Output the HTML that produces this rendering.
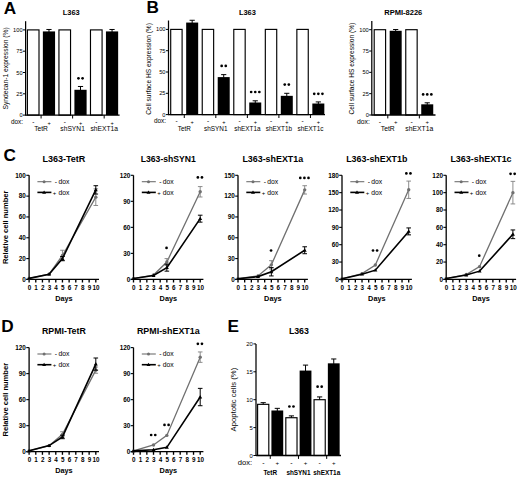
<!DOCTYPE html>
<html><head><meta charset="utf-8"><style>
html,body{margin:0;padding:0;background:#fff;}
svg{display:block;}
text{font-family:"Liberation Sans", sans-serif;}
</style></head><body>
<svg width="520" height="477" viewBox="0 0 520 477">
<rect width="520" height="477" fill="#fff"/>
<line x1="25.60" y1="21.20" x2="25.60" y2="115.70" stroke="#000" stroke-width="1.25"/>
<line x1="23.00" y1="115.10" x2="25.60" y2="115.10" stroke="#000" stroke-width="1.0"/>
<text x="22.60" y="117.15" font-size="5.7" text-anchor="end" fill="#000">0</text>
<line x1="23.00" y1="93.80" x2="25.60" y2="93.80" stroke="#000" stroke-width="1.0"/>
<text x="22.60" y="95.85" font-size="5.7" text-anchor="end" fill="#000">25</text>
<line x1="23.00" y1="72.50" x2="25.60" y2="72.50" stroke="#000" stroke-width="1.0"/>
<text x="22.60" y="74.55" font-size="5.7" text-anchor="end" fill="#000">50</text>
<line x1="23.00" y1="51.20" x2="25.60" y2="51.20" stroke="#000" stroke-width="1.0"/>
<text x="22.60" y="53.25" font-size="5.7" text-anchor="end" fill="#000">75</text>
<line x1="23.00" y1="29.90" x2="25.60" y2="29.90" stroke="#000" stroke-width="1.0"/>
<text x="22.60" y="31.95" font-size="5.7" text-anchor="end" fill="#000">100</text>
<rect x="27.40" y="29.90" width="11.60" height="85.20" fill="#fff" stroke="#000" stroke-width="1.15"/>
<line x1="48.97" y1="29.47" x2="48.97" y2="32.02" stroke="#000" stroke-width="1.0"/>
<line x1="46.37" y1="29.47" x2="51.57" y2="29.47" stroke="#000" stroke-width="1.0"/>
<rect x="42.87" y="31.42" width="12.20" height="83.68" fill="#000"/>
<rect x="58.94" y="29.90" width="11.60" height="85.20" fill="#fff" stroke="#000" stroke-width="1.15"/>
<line x1="80.51" y1="86.47" x2="80.51" y2="90.38" stroke="#000" stroke-width="1.0"/>
<line x1="77.91" y1="86.47" x2="83.11" y2="86.47" stroke="#000" stroke-width="1.0"/>
<rect x="74.41" y="89.78" width="12.20" height="25.32" fill="#000"/>
<circle cx="78.46" cy="78.30" r="1.35" fill="#000"/>
<circle cx="82.56" cy="78.30" r="1.35" fill="#000"/>
<rect x="90.48" y="29.90" width="11.60" height="85.20" fill="#fff" stroke="#000" stroke-width="1.15"/>
<line x1="112.05" y1="29.47" x2="112.05" y2="32.02" stroke="#000" stroke-width="1.0"/>
<line x1="109.45" y1="29.47" x2="114.65" y2="29.47" stroke="#000" stroke-width="1.0"/>
<rect x="105.95" y="31.42" width="12.20" height="83.68" fill="#000"/>
<line x1="25.60" y1="115.10" x2="119.60" y2="115.10" stroke="#000" stroke-width="1.3"/>
<line x1="41.09" y1="115.10" x2="41.09" y2="118.50" stroke="#000" stroke-width="1.0"/>
<text x="41.09" y="130.80" font-size="6.7" text-anchor="middle" fill="#000">TetR</text>
<line x1="72.62" y1="115.10" x2="72.62" y2="118.50" stroke="#000" stroke-width="1.0"/>
<text x="72.62" y="130.80" font-size="6.7" text-anchor="middle" fill="#000">shSYN1</text>
<line x1="104.17" y1="115.10" x2="104.17" y2="118.50" stroke="#000" stroke-width="1.0"/>
<text x="104.17" y="130.80" font-size="6.7" text-anchor="middle" fill="#000">shEXT1a</text>
<text x="33.30" y="123.80" font-size="6.4" text-anchor="middle" fill="#000">-</text>
<text x="49.07" y="124.60" font-size="5.632000000000001" text-anchor="middle" fill="#000">+</text>
<text x="64.84" y="123.80" font-size="6.4" text-anchor="middle" fill="#000">-</text>
<text x="80.61" y="124.60" font-size="5.632000000000001" text-anchor="middle" fill="#000">+</text>
<text x="96.38" y="123.80" font-size="6.4" text-anchor="middle" fill="#000">-</text>
<text x="112.15" y="124.60" font-size="5.632000000000001" text-anchor="middle" fill="#000">+</text>
<text x="11.00" y="123.80" font-size="6.4" text-anchor="start" fill="#000">dox:</text>
<text x="71.20" y="14.60" font-size="7.9" text-anchor="middle" font-weight="bold" fill="#000" textLength="17.0" lengthAdjust="spacingAndGlyphs">L363</text>
<text x="8.40" y="68.40" font-size="6.7" text-anchor="middle" transform="rotate(-90 8.40 68.40)" fill="#000">Syndecan-1 expression (%)</text>
<text x="3.70" y="14.30" font-size="17.2" text-anchor="start" font-weight="bold" fill="#000">A</text>
<line x1="168.50" y1="20.50" x2="168.50" y2="115.20" stroke="#000" stroke-width="1.25"/>
<line x1="165.90" y1="114.60" x2="168.50" y2="114.60" stroke="#000" stroke-width="1.0"/>
<text x="165.50" y="116.65" font-size="5.7" text-anchor="end" fill="#000">0</text>
<line x1="165.90" y1="93.30" x2="168.50" y2="93.30" stroke="#000" stroke-width="1.0"/>
<text x="165.50" y="95.35" font-size="5.7" text-anchor="end" fill="#000">25</text>
<line x1="165.90" y1="72.00" x2="168.50" y2="72.00" stroke="#000" stroke-width="1.0"/>
<text x="165.50" y="74.05" font-size="5.7" text-anchor="end" fill="#000">50</text>
<line x1="165.90" y1="50.70" x2="168.50" y2="50.70" stroke="#000" stroke-width="1.0"/>
<text x="165.50" y="52.75" font-size="5.7" text-anchor="end" fill="#000">75</text>
<line x1="165.90" y1="29.40" x2="168.50" y2="29.40" stroke="#000" stroke-width="1.0"/>
<text x="165.50" y="31.45" font-size="5.7" text-anchor="end" fill="#000">100</text>
<rect x="170.70" y="29.40" width="11.40" height="85.20" fill="#fff" stroke="#000" stroke-width="1.15"/>
<line x1="192.17" y1="20.28" x2="192.17" y2="23.17" stroke="#000" stroke-width="1.0"/>
<line x1="189.57" y1="20.28" x2="194.77" y2="20.28" stroke="#000" stroke-width="1.0"/>
<rect x="186.17" y="22.57" width="12.00" height="92.03" fill="#000"/>
<rect x="202.24" y="29.40" width="11.40" height="85.20" fill="#fff" stroke="#000" stroke-width="1.15"/>
<line x1="223.71" y1="74.64" x2="223.71" y2="77.70" stroke="#000" stroke-width="1.0"/>
<line x1="221.11" y1="74.64" x2="226.31" y2="74.64" stroke="#000" stroke-width="1.0"/>
<rect x="217.71" y="77.10" width="12.00" height="37.50" fill="#000"/>
<circle cx="221.66" cy="65.90" r="1.35" fill="#000"/>
<circle cx="225.76" cy="65.90" r="1.35" fill="#000"/>
<rect x="233.78" y="29.40" width="11.40" height="85.20" fill="#fff" stroke="#000" stroke-width="1.15"/>
<line x1="255.25" y1="100.80" x2="255.25" y2="103.09" stroke="#000" stroke-width="1.0"/>
<line x1="252.65" y1="100.80" x2="257.85" y2="100.80" stroke="#000" stroke-width="1.0"/>
<rect x="249.25" y="102.49" width="12.00" height="12.11" fill="#000"/>
<circle cx="251.15" cy="92.00" r="1.35" fill="#000"/>
<circle cx="255.25" cy="92.00" r="1.35" fill="#000"/>
<circle cx="259.35" cy="92.00" r="1.35" fill="#000"/>
<rect x="265.32" y="29.40" width="11.40" height="85.20" fill="#fff" stroke="#000" stroke-width="1.15"/>
<line x1="286.79" y1="93.30" x2="286.79" y2="96.44" stroke="#000" stroke-width="1.0"/>
<line x1="284.19" y1="93.30" x2="289.39" y2="93.30" stroke="#000" stroke-width="1.0"/>
<rect x="280.79" y="95.84" width="12.00" height="18.76" fill="#000"/>
<circle cx="284.74" cy="84.60" r="1.35" fill="#000"/>
<circle cx="288.84" cy="84.60" r="1.35" fill="#000"/>
<rect x="296.86" y="29.40" width="11.40" height="85.20" fill="#fff" stroke="#000" stroke-width="1.15"/>
<line x1="318.33" y1="101.91" x2="318.33" y2="104.11" stroke="#000" stroke-width="1.0"/>
<line x1="315.73" y1="101.91" x2="320.93" y2="101.91" stroke="#000" stroke-width="1.0"/>
<rect x="312.33" y="103.51" width="12.00" height="11.09" fill="#000"/>
<circle cx="314.23" cy="93.80" r="1.35" fill="#000"/>
<circle cx="318.33" cy="93.80" r="1.35" fill="#000"/>
<circle cx="322.43" cy="93.80" r="1.35" fill="#000"/>
<line x1="168.50" y1="114.60" x2="325.00" y2="114.60" stroke="#000" stroke-width="1.3"/>
<line x1="184.28" y1="114.60" x2="184.28" y2="118.00" stroke="#000" stroke-width="1.0"/>
<text x="184.28" y="131.00" font-size="6.4" text-anchor="middle" fill="#000">TetR</text>
<line x1="215.82" y1="114.60" x2="215.82" y2="118.00" stroke="#000" stroke-width="1.0"/>
<text x="215.82" y="131.00" font-size="6.4" text-anchor="middle" fill="#000">shSYN1</text>
<line x1="247.37" y1="114.60" x2="247.37" y2="118.00" stroke="#000" stroke-width="1.0"/>
<text x="247.37" y="131.00" font-size="6.4" text-anchor="middle" fill="#000">shEXT1a</text>
<line x1="278.90" y1="114.60" x2="278.90" y2="118.00" stroke="#000" stroke-width="1.0"/>
<text x="278.90" y="131.00" font-size="6.4" text-anchor="middle" fill="#000">shEXT1b</text>
<line x1="310.44" y1="114.60" x2="310.44" y2="118.00" stroke="#000" stroke-width="1.0"/>
<text x="310.44" y="131.00" font-size="6.4" text-anchor="middle" fill="#000">shEXT1c</text>
<text x="176.50" y="123.30" font-size="6.4" text-anchor="middle" fill="#000">-</text>
<text x="192.27" y="124.10" font-size="5.632000000000001" text-anchor="middle" fill="#000">+</text>
<text x="208.04" y="123.30" font-size="6.4" text-anchor="middle" fill="#000">-</text>
<text x="223.81" y="124.10" font-size="5.632000000000001" text-anchor="middle" fill="#000">+</text>
<text x="239.58" y="123.30" font-size="6.4" text-anchor="middle" fill="#000">-</text>
<text x="255.35" y="124.10" font-size="5.632000000000001" text-anchor="middle" fill="#000">+</text>
<text x="271.12" y="123.30" font-size="6.4" text-anchor="middle" fill="#000">-</text>
<text x="286.89" y="124.10" font-size="5.632000000000001" text-anchor="middle" fill="#000">+</text>
<text x="302.66" y="123.30" font-size="6.4" text-anchor="middle" fill="#000">-</text>
<text x="318.43" y="124.10" font-size="5.632000000000001" text-anchor="middle" fill="#000">+</text>
<text x="154.00" y="123.30" font-size="6.4" text-anchor="start" fill="#000">dox:</text>
<text x="247.40" y="14.50" font-size="7.9" text-anchor="middle" font-weight="bold" fill="#000" textLength="17.0" lengthAdjust="spacingAndGlyphs">L363</text>
<text x="150.70" y="68.90" font-size="6.6" text-anchor="middle" transform="rotate(-90 150.70 68.90)" fill="#000">Cell surface HS expression (%)</text>
<text x="146.40" y="12.90" font-size="17.2" text-anchor="start" font-weight="bold" fill="#000">B</text>
<line x1="371.80" y1="21.10" x2="371.80" y2="115.60" stroke="#000" stroke-width="1.25"/>
<line x1="369.20" y1="115.00" x2="371.80" y2="115.00" stroke="#000" stroke-width="1.0"/>
<text x="368.80" y="117.05" font-size="5.7" text-anchor="end" fill="#000">0</text>
<line x1="369.20" y1="93.67" x2="371.80" y2="93.67" stroke="#000" stroke-width="1.0"/>
<text x="368.80" y="95.73" font-size="5.7" text-anchor="end" fill="#000">25</text>
<line x1="369.20" y1="72.35" x2="371.80" y2="72.35" stroke="#000" stroke-width="1.0"/>
<text x="368.80" y="74.40" font-size="5.7" text-anchor="end" fill="#000">50</text>
<line x1="369.20" y1="51.02" x2="371.80" y2="51.02" stroke="#000" stroke-width="1.0"/>
<text x="368.80" y="53.08" font-size="5.7" text-anchor="end" fill="#000">75</text>
<line x1="369.20" y1="29.70" x2="371.80" y2="29.70" stroke="#000" stroke-width="1.0"/>
<text x="368.80" y="31.75" font-size="5.7" text-anchor="end" fill="#000">100</text>
<rect x="374.20" y="29.70" width="11.40" height="85.30" fill="#fff" stroke="#000" stroke-width="1.15"/>
<line x1="395.68" y1="29.53" x2="395.68" y2="31.39" stroke="#000" stroke-width="1.0"/>
<line x1="393.08" y1="29.53" x2="398.28" y2="29.53" stroke="#000" stroke-width="1.0"/>
<rect x="389.68" y="30.79" width="12.00" height="84.21" fill="#000"/>
<rect x="405.76" y="29.70" width="11.40" height="85.30" fill="#fff" stroke="#000" stroke-width="1.15"/>
<line x1="427.24" y1="102.80" x2="427.24" y2="104.92" stroke="#000" stroke-width="1.0"/>
<line x1="424.64" y1="102.80" x2="429.84" y2="102.80" stroke="#000" stroke-width="1.0"/>
<rect x="421.24" y="104.32" width="12.00" height="10.68" fill="#000"/>
<circle cx="423.14" cy="94.40" r="1.35" fill="#000"/>
<circle cx="427.24" cy="94.40" r="1.35" fill="#000"/>
<circle cx="431.34" cy="94.40" r="1.35" fill="#000"/>
<line x1="371.80" y1="115.00" x2="435.50" y2="115.00" stroke="#000" stroke-width="1.3"/>
<line x1="387.79" y1="115.00" x2="387.79" y2="118.40" stroke="#000" stroke-width="1.0"/>
<text x="387.79" y="131.20" font-size="6.8" text-anchor="middle" fill="#000">TetR</text>
<line x1="419.35" y1="115.00" x2="419.35" y2="118.40" stroke="#000" stroke-width="1.0"/>
<text x="419.35" y="131.20" font-size="6.8" text-anchor="middle" fill="#000">shEXT1a</text>
<text x="380.00" y="123.60" font-size="6.8" text-anchor="middle" fill="#000">-</text>
<text x="395.78" y="124.40" font-size="5.984" text-anchor="middle" fill="#000">+</text>
<text x="411.56" y="123.60" font-size="6.8" text-anchor="middle" fill="#000">-</text>
<text x="427.34" y="124.40" font-size="5.984" text-anchor="middle" fill="#000">+</text>
<text x="357.00" y="123.60" font-size="6.8" text-anchor="start" fill="#000">dox:</text>
<text x="403.30" y="14.50" font-size="7.9" text-anchor="middle" font-weight="bold" fill="#000" textLength="38.0" lengthAdjust="spacingAndGlyphs">RPMI-8226</text>
<text x="354.00" y="68.60" font-size="6.6" text-anchor="middle" transform="rotate(-90 354.00 68.60)" fill="#000">Cell surface HS expression (%)</text>
<line x1="256.00" y1="343.90" x2="256.00" y2="456.10" stroke="#000" stroke-width="1.25"/>
<line x1="253.40" y1="455.50" x2="256.00" y2="455.50" stroke="#000" stroke-width="1.0"/>
<text x="252.80" y="457.62" font-size="5.9" text-anchor="end" fill="#000">0</text>
<line x1="253.40" y1="427.60" x2="256.00" y2="427.60" stroke="#000" stroke-width="1.0"/>
<text x="252.80" y="429.72" font-size="5.9" text-anchor="end" fill="#000">5</text>
<line x1="253.40" y1="399.70" x2="256.00" y2="399.70" stroke="#000" stroke-width="1.0"/>
<text x="252.80" y="401.82" font-size="5.9" text-anchor="end" fill="#000">10</text>
<line x1="253.40" y1="371.80" x2="256.00" y2="371.80" stroke="#000" stroke-width="1.0"/>
<text x="252.80" y="373.92" font-size="5.9" text-anchor="end" fill="#000">15</text>
<line x1="253.40" y1="343.90" x2="256.00" y2="343.90" stroke="#000" stroke-width="1.0"/>
<text x="252.80" y="346.02" font-size="5.9" text-anchor="end" fill="#000">20</text>
<line x1="263.20" y1="402.66" x2="263.20" y2="404.83" stroke="#000" stroke-width="1.0"/>
<line x1="260.60" y1="402.66" x2="265.80" y2="402.66" stroke="#000" stroke-width="1.0"/>
<rect x="257.60" y="404.33" width="11.20" height="51.17" fill="#fff" stroke="#000" stroke-width="1.15"/>
<line x1="277.31" y1="408.35" x2="277.31" y2="411.08" stroke="#000" stroke-width="1.0"/>
<line x1="274.71" y1="408.35" x2="279.91" y2="408.35" stroke="#000" stroke-width="1.0"/>
<rect x="271.41" y="410.48" width="11.80" height="45.02" fill="#000"/>
<line x1="291.42" y1="415.88" x2="291.42" y2="418.22" stroke="#000" stroke-width="1.0"/>
<line x1="288.82" y1="415.88" x2="294.02" y2="415.88" stroke="#000" stroke-width="1.0"/>
<rect x="285.82" y="417.72" width="11.20" height="37.78" fill="#fff" stroke="#000" stroke-width="1.15"/>
<circle cx="289.37" cy="406.50" r="1.35" fill="#000"/>
<circle cx="293.47" cy="406.50" r="1.35" fill="#000"/>
<line x1="305.53" y1="365.10" x2="305.53" y2="371.18" stroke="#000" stroke-width="1.0"/>
<line x1="302.93" y1="365.10" x2="308.13" y2="365.10" stroke="#000" stroke-width="1.0"/>
<rect x="299.63" y="370.58" width="11.80" height="84.92" fill="#000"/>
<line x1="319.64" y1="396.91" x2="319.64" y2="400.20" stroke="#000" stroke-width="1.0"/>
<line x1="317.04" y1="396.91" x2="322.24" y2="396.91" stroke="#000" stroke-width="1.0"/>
<rect x="314.04" y="399.70" width="11.20" height="55.80" fill="#fff" stroke="#000" stroke-width="1.15"/>
<circle cx="317.59" cy="386.70" r="1.35" fill="#000"/>
<circle cx="321.69" cy="386.70" r="1.35" fill="#000"/>
<line x1="333.75" y1="358.97" x2="333.75" y2="363.93" stroke="#000" stroke-width="1.0"/>
<line x1="331.15" y1="358.97" x2="336.35" y2="358.97" stroke="#000" stroke-width="1.0"/>
<rect x="327.85" y="363.33" width="11.80" height="92.17" fill="#000"/>
<line x1="256.00" y1="455.50" x2="341.00" y2="455.50" stroke="#000" stroke-width="1.3"/>
<line x1="270.25" y1="455.50" x2="270.25" y2="458.90" stroke="#000" stroke-width="1.0"/>
<text x="270.25" y="474.60" font-size="6.4" text-anchor="middle" font-weight="bold" fill="#000">TetR</text>
<line x1="298.47" y1="455.50" x2="298.47" y2="458.90" stroke="#000" stroke-width="1.0"/>
<text x="298.47" y="474.60" font-size="6.4" text-anchor="middle" font-weight="bold" fill="#000">shSYN1</text>
<line x1="326.69" y1="455.50" x2="326.69" y2="458.90" stroke="#000" stroke-width="1.0"/>
<text x="326.69" y="474.60" font-size="6.4" text-anchor="middle" font-weight="bold" fill="#000">shEXT1a</text>
<text x="263.30" y="465.20" font-size="7.0" text-anchor="middle" fill="#000">-</text>
<text x="277.41" y="464.90" font-size="6.16" text-anchor="middle" fill="#000">+</text>
<text x="291.52" y="465.20" font-size="7.0" text-anchor="middle" fill="#000">-</text>
<text x="305.63" y="464.90" font-size="6.16" text-anchor="middle" fill="#000">+</text>
<text x="319.74" y="465.20" font-size="7.0" text-anchor="middle" fill="#000">-</text>
<text x="333.85" y="464.90" font-size="6.16" text-anchor="middle" fill="#000">+</text>
<text x="237.70" y="465.20" font-size="7.6" text-anchor="start" fill="#000">dox:</text>
<text x="298.90" y="334.00" font-size="8.8" text-anchor="middle" font-weight="bold" fill="#000" textLength="20.0" lengthAdjust="spacingAndGlyphs">L363</text>
<text x="235.70" y="399.60" font-size="7.7" text-anchor="middle" transform="rotate(-90 235.70 399.60)" fill="#000">Apoptotic cells (%)</text>
<text x="227.60" y="331.60" font-size="17.2" text-anchor="start" font-weight="bold" fill="#000">E</text>
<line x1="29.10" y1="175.30" x2="29.10" y2="280.00" stroke="#000" stroke-width="1.3"/>
<line x1="26.30" y1="279.40" x2="29.10" y2="279.40" stroke="#000" stroke-width="1.1"/>
<text x="25.90" y="281.60" font-size="6.4" text-anchor="end" font-weight="bold" fill="#000">0</text>
<line x1="26.30" y1="258.58" x2="29.10" y2="258.58" stroke="#000" stroke-width="1.1"/>
<text x="25.90" y="260.78" font-size="6.4" text-anchor="end" font-weight="bold" fill="#000">20</text>
<line x1="26.30" y1="237.76" x2="29.10" y2="237.76" stroke="#000" stroke-width="1.1"/>
<text x="25.90" y="239.96" font-size="6.4" text-anchor="end" font-weight="bold" fill="#000">40</text>
<line x1="26.30" y1="216.94" x2="29.10" y2="216.94" stroke="#000" stroke-width="1.1"/>
<text x="25.90" y="219.14" font-size="6.4" text-anchor="end" font-weight="bold" fill="#000">60</text>
<line x1="26.30" y1="196.12" x2="29.10" y2="196.12" stroke="#000" stroke-width="1.1"/>
<text x="25.90" y="198.32" font-size="6.4" text-anchor="end" font-weight="bold" fill="#000">80</text>
<line x1="26.30" y1="175.30" x2="29.10" y2="175.30" stroke="#000" stroke-width="1.1"/>
<text x="25.90" y="177.50" font-size="6.4" text-anchor="end" font-weight="bold" fill="#000">100</text>
<line x1="26.30" y1="279.40" x2="99.00" y2="279.40" stroke="#000" stroke-width="1.3"/>
<line x1="29.10" y1="279.40" x2="29.10" y2="282.50" stroke="#000" stroke-width="1.35"/>
<text x="29.40" y="290.10" font-size="6.3" text-anchor="middle" font-weight="bold" fill="#000">0</text>
<line x1="35.77" y1="279.40" x2="35.77" y2="282.50" stroke="#000" stroke-width="1.35"/>
<text x="36.07" y="290.10" font-size="6.3" text-anchor="middle" font-weight="bold" fill="#000">1</text>
<line x1="42.44" y1="279.40" x2="42.44" y2="282.50" stroke="#000" stroke-width="1.35"/>
<text x="42.74" y="290.10" font-size="6.3" text-anchor="middle" font-weight="bold" fill="#000">2</text>
<line x1="49.11" y1="279.40" x2="49.11" y2="282.50" stroke="#000" stroke-width="1.35"/>
<text x="49.41" y="290.10" font-size="6.3" text-anchor="middle" font-weight="bold" fill="#000">3</text>
<line x1="55.78" y1="279.40" x2="55.78" y2="282.50" stroke="#000" stroke-width="1.35"/>
<text x="56.08" y="290.10" font-size="6.3" text-anchor="middle" font-weight="bold" fill="#000">4</text>
<line x1="62.45" y1="279.40" x2="62.45" y2="282.50" stroke="#000" stroke-width="1.35"/>
<text x="62.75" y="290.10" font-size="6.3" text-anchor="middle" font-weight="bold" fill="#000">5</text>
<line x1="69.12" y1="279.40" x2="69.12" y2="282.50" stroke="#000" stroke-width="1.35"/>
<text x="69.42" y="290.10" font-size="6.3" text-anchor="middle" font-weight="bold" fill="#000">6</text>
<line x1="75.79" y1="279.40" x2="75.79" y2="282.50" stroke="#000" stroke-width="1.35"/>
<text x="76.09" y="290.10" font-size="6.3" text-anchor="middle" font-weight="bold" fill="#000">7</text>
<line x1="82.46" y1="279.40" x2="82.46" y2="282.50" stroke="#000" stroke-width="1.35"/>
<text x="82.76" y="290.10" font-size="6.3" text-anchor="middle" font-weight="bold" fill="#000">8</text>
<line x1="89.13" y1="279.40" x2="89.13" y2="282.50" stroke="#000" stroke-width="1.35"/>
<text x="89.43" y="290.10" font-size="6.3" text-anchor="middle" font-weight="bold" fill="#000">9</text>
<line x1="95.80" y1="279.40" x2="95.80" y2="282.50" stroke="#000" stroke-width="1.35"/>
<text x="96.10" y="290.10" font-size="6.3" text-anchor="middle" font-weight="bold" fill="#000">10</text>
<text x="63.95" y="301.10" font-size="7.3" text-anchor="middle" font-weight="bold" fill="#000">Days</text>
<line x1="37.40" y1="181.70" x2="51.40" y2="181.70" stroke="#707070" stroke-width="1.1"/>
<circle cx="44.10" cy="181.70" r="1.5" fill="#707070"/>
<text x="55.90" y="184.00" font-size="6.8" text-anchor="middle" fill="#000">-</text>
<text x="58.40" y="184.10" font-size="6.8" text-anchor="start" fill="#000">dox</text>
<line x1="37.40" y1="192.40" x2="51.40" y2="192.40" stroke="#000" stroke-width="1.6"/>
<path d="M42.10,193.80 L46.10,193.80 L44.10,190.40 Z" fill="#000"/>
<text x="54.50" y="195.10" font-size="6.0" text-anchor="middle" fill="#000">+</text>
<text x="58.40" y="194.80" font-size="6.8" text-anchor="start" fill="#000">dox</text>
<polyline points="29.10,278.36 49.11,274.19 62.45,255.46 95.80,197.16" fill="none" stroke="#707070" stroke-width="1.3"/>
<circle cx="29.10" cy="278.36" r="1.7" fill="#707070"/>
<circle cx="49.11" cy="274.19" r="1.7" fill="#707070"/>
<line x1="62.45" y1="250.25" x2="62.45" y2="260.66" stroke="#808080" stroke-width="0.9"/>
<line x1="60.15" y1="250.25" x2="64.75" y2="250.25" stroke="#808080" stroke-width="0.9"/>
<line x1="60.15" y1="260.66" x2="64.75" y2="260.66" stroke="#808080" stroke-width="0.9"/>
<circle cx="62.45" cy="255.46" r="1.7" fill="#707070"/>
<line x1="95.80" y1="188.83" x2="95.80" y2="205.49" stroke="#808080" stroke-width="0.9"/>
<line x1="93.50" y1="188.83" x2="98.10" y2="188.83" stroke="#808080" stroke-width="0.9"/>
<line x1="93.50" y1="205.49" x2="98.10" y2="205.49" stroke="#808080" stroke-width="0.9"/>
<circle cx="95.80" cy="197.16" r="1.7" fill="#707070"/>
<polyline points="29.10,278.36 49.11,274.19 62.45,258.58 95.80,189.87" fill="none" stroke="#000" stroke-width="1.6"/>
<path d="M27.10,279.76 L31.10,279.76 L29.10,276.36 Z" fill="#000"/>
<path d="M47.11,275.59 L51.11,275.59 L49.11,272.19 Z" fill="#000"/>
<line x1="62.45" y1="256.50" x2="62.45" y2="260.66" stroke="#000" stroke-width="1.0"/>
<line x1="60.15" y1="256.50" x2="64.75" y2="256.50" stroke="#000" stroke-width="1.0"/>
<line x1="60.15" y1="260.66" x2="64.75" y2="260.66" stroke="#000" stroke-width="1.0"/>
<path d="M60.45,259.98 L64.45,259.98 L62.45,256.58 Z" fill="#000"/>
<line x1="95.80" y1="185.71" x2="95.80" y2="194.04" stroke="#000" stroke-width="1.0"/>
<line x1="93.50" y1="185.71" x2="98.10" y2="185.71" stroke="#000" stroke-width="1.0"/>
<line x1="93.50" y1="194.04" x2="98.10" y2="194.04" stroke="#000" stroke-width="1.0"/>
<path d="M93.80,191.27 L97.80,191.27 L95.80,187.87 Z" fill="#000"/>
<text x="63.90" y="161.50" font-size="8.8" text-anchor="middle" font-weight="bold" fill="#000" textLength="43.0" lengthAdjust="spacingAndGlyphs">L363-TetR</text>
<text x="8.50" y="227.35" font-size="7.6" text-anchor="middle" font-weight="bold" transform="rotate(-90 8.50 227.35)" fill="#000" textLength="73.5" lengthAdjust="spacingAndGlyphs">Relative cell number</text>
<line x1="133.50" y1="175.30" x2="133.50" y2="280.00" stroke="#000" stroke-width="1.3"/>
<line x1="130.70" y1="279.40" x2="133.50" y2="279.40" stroke="#000" stroke-width="1.1"/>
<text x="130.30" y="281.60" font-size="6.4" text-anchor="end" font-weight="bold" fill="#000">0</text>
<line x1="130.70" y1="253.38" x2="133.50" y2="253.38" stroke="#000" stroke-width="1.1"/>
<text x="130.30" y="255.58" font-size="6.4" text-anchor="end" font-weight="bold" fill="#000">30</text>
<line x1="130.70" y1="227.35" x2="133.50" y2="227.35" stroke="#000" stroke-width="1.1"/>
<text x="130.30" y="229.55" font-size="6.4" text-anchor="end" font-weight="bold" fill="#000">60</text>
<line x1="130.70" y1="201.32" x2="133.50" y2="201.32" stroke="#000" stroke-width="1.1"/>
<text x="130.30" y="203.53" font-size="6.4" text-anchor="end" font-weight="bold" fill="#000">90</text>
<line x1="130.70" y1="175.30" x2="133.50" y2="175.30" stroke="#000" stroke-width="1.1"/>
<text x="130.30" y="177.50" font-size="6.4" text-anchor="end" font-weight="bold" fill="#000">120</text>
<line x1="130.70" y1="279.40" x2="203.40" y2="279.40" stroke="#000" stroke-width="1.3"/>
<line x1="133.50" y1="279.40" x2="133.50" y2="282.50" stroke="#000" stroke-width="1.35"/>
<text x="133.80" y="290.10" font-size="6.3" text-anchor="middle" font-weight="bold" fill="#000">0</text>
<line x1="140.17" y1="279.40" x2="140.17" y2="282.50" stroke="#000" stroke-width="1.35"/>
<text x="140.47" y="290.10" font-size="6.3" text-anchor="middle" font-weight="bold" fill="#000">1</text>
<line x1="146.84" y1="279.40" x2="146.84" y2="282.50" stroke="#000" stroke-width="1.35"/>
<text x="147.14" y="290.10" font-size="6.3" text-anchor="middle" font-weight="bold" fill="#000">2</text>
<line x1="153.51" y1="279.40" x2="153.51" y2="282.50" stroke="#000" stroke-width="1.35"/>
<text x="153.81" y="290.10" font-size="6.3" text-anchor="middle" font-weight="bold" fill="#000">3</text>
<line x1="160.18" y1="279.40" x2="160.18" y2="282.50" stroke="#000" stroke-width="1.35"/>
<text x="160.48" y="290.10" font-size="6.3" text-anchor="middle" font-weight="bold" fill="#000">4</text>
<line x1="166.85" y1="279.40" x2="166.85" y2="282.50" stroke="#000" stroke-width="1.35"/>
<text x="167.15" y="290.10" font-size="6.3" text-anchor="middle" font-weight="bold" fill="#000">5</text>
<line x1="173.52" y1="279.40" x2="173.52" y2="282.50" stroke="#000" stroke-width="1.35"/>
<text x="173.82" y="290.10" font-size="6.3" text-anchor="middle" font-weight="bold" fill="#000">6</text>
<line x1="180.19" y1="279.40" x2="180.19" y2="282.50" stroke="#000" stroke-width="1.35"/>
<text x="180.49" y="290.10" font-size="6.3" text-anchor="middle" font-weight="bold" fill="#000">7</text>
<line x1="186.86" y1="279.40" x2="186.86" y2="282.50" stroke="#000" stroke-width="1.35"/>
<text x="187.16" y="290.10" font-size="6.3" text-anchor="middle" font-weight="bold" fill="#000">8</text>
<line x1="193.53" y1="279.40" x2="193.53" y2="282.50" stroke="#000" stroke-width="1.35"/>
<text x="193.83" y="290.10" font-size="6.3" text-anchor="middle" font-weight="bold" fill="#000">9</text>
<line x1="200.20" y1="279.40" x2="200.20" y2="282.50" stroke="#000" stroke-width="1.35"/>
<text x="200.50" y="290.10" font-size="6.3" text-anchor="middle" font-weight="bold" fill="#000">10</text>
<text x="168.35" y="301.10" font-size="7.3" text-anchor="middle" font-weight="bold" fill="#000">Days</text>
<line x1="141.80" y1="181.70" x2="155.80" y2="181.70" stroke="#707070" stroke-width="1.1"/>
<circle cx="148.50" cy="181.70" r="1.5" fill="#707070"/>
<text x="160.30" y="184.00" font-size="6.8" text-anchor="middle" fill="#000">-</text>
<text x="162.80" y="184.10" font-size="6.8" text-anchor="start" fill="#000">dox</text>
<line x1="141.80" y1="192.40" x2="155.80" y2="192.40" stroke="#000" stroke-width="1.6"/>
<path d="M146.50,193.80 L150.50,193.80 L148.50,190.40 Z" fill="#000"/>
<text x="158.90" y="195.10" font-size="6.0" text-anchor="middle" fill="#000">+</text>
<text x="162.80" y="194.80" font-size="6.8" text-anchor="start" fill="#000">dox</text>
<polyline points="133.50,278.53 153.51,275.06 166.85,262.05 200.20,191.78" fill="none" stroke="#707070" stroke-width="1.3"/>
<circle cx="133.50" cy="278.53" r="1.7" fill="#707070"/>
<circle cx="153.51" cy="275.06" r="1.7" fill="#707070"/>
<line x1="166.85" y1="258.58" x2="166.85" y2="265.52" stroke="#808080" stroke-width="0.9"/>
<line x1="164.55" y1="258.58" x2="169.15" y2="258.58" stroke="#808080" stroke-width="0.9"/>
<line x1="164.55" y1="265.52" x2="169.15" y2="265.52" stroke="#808080" stroke-width="0.9"/>
<circle cx="166.85" cy="262.05" r="1.7" fill="#707070"/>
<line x1="200.20" y1="186.58" x2="200.20" y2="196.99" stroke="#808080" stroke-width="0.9"/>
<line x1="197.90" y1="186.58" x2="202.50" y2="186.58" stroke="#808080" stroke-width="0.9"/>
<line x1="197.90" y1="196.99" x2="202.50" y2="196.99" stroke="#808080" stroke-width="0.9"/>
<circle cx="200.20" cy="191.78" r="1.7" fill="#707070"/>
<polyline points="133.50,278.53 153.51,275.50 166.85,267.69 200.20,218.67" fill="none" stroke="#000" stroke-width="1.6"/>
<path d="M131.50,279.93 L135.50,279.93 L133.50,276.53 Z" fill="#000"/>
<path d="M151.51,276.90 L155.51,276.90 L153.51,273.50 Z" fill="#000"/>
<line x1="166.85" y1="264.22" x2="166.85" y2="271.16" stroke="#000" stroke-width="1.0"/>
<line x1="164.55" y1="264.22" x2="169.15" y2="264.22" stroke="#000" stroke-width="1.0"/>
<line x1="164.55" y1="271.16" x2="169.15" y2="271.16" stroke="#000" stroke-width="1.0"/>
<path d="M164.85,269.09 L168.85,269.09 L166.85,265.69 Z" fill="#000"/>
<line x1="200.20" y1="215.20" x2="200.20" y2="222.14" stroke="#000" stroke-width="1.0"/>
<line x1="197.90" y1="215.20" x2="202.50" y2="215.20" stroke="#000" stroke-width="1.0"/>
<line x1="197.90" y1="222.14" x2="202.50" y2="222.14" stroke="#000" stroke-width="1.0"/>
<path d="M198.20,220.07 L202.20,220.07 L200.20,216.67 Z" fill="#000"/>
<circle cx="166.55" cy="247.90" r="1.35" fill="#000"/>
<circle cx="197.85" cy="177.40" r="1.35" fill="#000"/>
<circle cx="201.95" cy="177.40" r="1.35" fill="#000"/>
<text x="168.30" y="161.50" font-size="8.8" text-anchor="middle" font-weight="bold" fill="#000" textLength="55.0" lengthAdjust="spacingAndGlyphs">L363-shSYN1</text>
<line x1="238.00" y1="175.30" x2="238.00" y2="280.00" stroke="#000" stroke-width="1.3"/>
<line x1="235.20" y1="279.40" x2="238.00" y2="279.40" stroke="#000" stroke-width="1.1"/>
<text x="234.80" y="281.60" font-size="6.4" text-anchor="end" font-weight="bold" fill="#000">0</text>
<line x1="235.20" y1="258.58" x2="238.00" y2="258.58" stroke="#000" stroke-width="1.1"/>
<text x="234.80" y="260.78" font-size="6.4" text-anchor="end" font-weight="bold" fill="#000">30</text>
<line x1="235.20" y1="237.76" x2="238.00" y2="237.76" stroke="#000" stroke-width="1.1"/>
<text x="234.80" y="239.96" font-size="6.4" text-anchor="end" font-weight="bold" fill="#000">60</text>
<line x1="235.20" y1="216.94" x2="238.00" y2="216.94" stroke="#000" stroke-width="1.1"/>
<text x="234.80" y="219.14" font-size="6.4" text-anchor="end" font-weight="bold" fill="#000">90</text>
<line x1="235.20" y1="196.12" x2="238.00" y2="196.12" stroke="#000" stroke-width="1.1"/>
<text x="234.80" y="198.32" font-size="6.4" text-anchor="end" font-weight="bold" fill="#000">120</text>
<line x1="235.20" y1="175.30" x2="238.00" y2="175.30" stroke="#000" stroke-width="1.1"/>
<text x="234.80" y="177.50" font-size="6.4" text-anchor="end" font-weight="bold" fill="#000">150</text>
<line x1="235.20" y1="279.40" x2="307.90" y2="279.40" stroke="#000" stroke-width="1.3"/>
<line x1="238.00" y1="279.40" x2="238.00" y2="282.50" stroke="#000" stroke-width="1.35"/>
<text x="238.30" y="290.10" font-size="6.3" text-anchor="middle" font-weight="bold" fill="#000">0</text>
<line x1="244.67" y1="279.40" x2="244.67" y2="282.50" stroke="#000" stroke-width="1.35"/>
<text x="244.97" y="290.10" font-size="6.3" text-anchor="middle" font-weight="bold" fill="#000">1</text>
<line x1="251.34" y1="279.40" x2="251.34" y2="282.50" stroke="#000" stroke-width="1.35"/>
<text x="251.64" y="290.10" font-size="6.3" text-anchor="middle" font-weight="bold" fill="#000">2</text>
<line x1="258.01" y1="279.40" x2="258.01" y2="282.50" stroke="#000" stroke-width="1.35"/>
<text x="258.31" y="290.10" font-size="6.3" text-anchor="middle" font-weight="bold" fill="#000">3</text>
<line x1="264.68" y1="279.40" x2="264.68" y2="282.50" stroke="#000" stroke-width="1.35"/>
<text x="264.98" y="290.10" font-size="6.3" text-anchor="middle" font-weight="bold" fill="#000">4</text>
<line x1="271.35" y1="279.40" x2="271.35" y2="282.50" stroke="#000" stroke-width="1.35"/>
<text x="271.65" y="290.10" font-size="6.3" text-anchor="middle" font-weight="bold" fill="#000">5</text>
<line x1="278.02" y1="279.40" x2="278.02" y2="282.50" stroke="#000" stroke-width="1.35"/>
<text x="278.32" y="290.10" font-size="6.3" text-anchor="middle" font-weight="bold" fill="#000">6</text>
<line x1="284.69" y1="279.40" x2="284.69" y2="282.50" stroke="#000" stroke-width="1.35"/>
<text x="284.99" y="290.10" font-size="6.3" text-anchor="middle" font-weight="bold" fill="#000">7</text>
<line x1="291.36" y1="279.40" x2="291.36" y2="282.50" stroke="#000" stroke-width="1.35"/>
<text x="291.66" y="290.10" font-size="6.3" text-anchor="middle" font-weight="bold" fill="#000">8</text>
<line x1="298.03" y1="279.40" x2="298.03" y2="282.50" stroke="#000" stroke-width="1.35"/>
<text x="298.33" y="290.10" font-size="6.3" text-anchor="middle" font-weight="bold" fill="#000">9</text>
<line x1="304.70" y1="279.40" x2="304.70" y2="282.50" stroke="#000" stroke-width="1.35"/>
<text x="305.00" y="290.10" font-size="6.3" text-anchor="middle" font-weight="bold" fill="#000">10</text>
<text x="272.85" y="301.10" font-size="7.3" text-anchor="middle" font-weight="bold" fill="#000">Days</text>
<line x1="246.30" y1="181.70" x2="260.30" y2="181.70" stroke="#707070" stroke-width="1.1"/>
<circle cx="253.00" cy="181.70" r="1.5" fill="#707070"/>
<text x="264.80" y="184.00" font-size="6.8" text-anchor="middle" fill="#000">-</text>
<text x="267.30" y="184.10" font-size="6.8" text-anchor="start" fill="#000">dox</text>
<line x1="246.30" y1="192.40" x2="260.30" y2="192.40" stroke="#000" stroke-width="1.6"/>
<path d="M251.00,193.80 L255.00,193.80 L253.00,190.40 Z" fill="#000"/>
<text x="263.40" y="195.10" font-size="6.0" text-anchor="middle" fill="#000">+</text>
<text x="267.30" y="194.80" font-size="6.8" text-anchor="start" fill="#000">dox</text>
<polyline points="238.00,278.71 258.01,275.93 271.35,264.83 304.70,189.87" fill="none" stroke="#707070" stroke-width="1.3"/>
<circle cx="238.00" cy="278.71" r="1.7" fill="#707070"/>
<circle cx="258.01" cy="275.93" r="1.7" fill="#707070"/>
<line x1="271.35" y1="260.66" x2="271.35" y2="268.99" stroke="#808080" stroke-width="0.9"/>
<line x1="269.05" y1="260.66" x2="273.65" y2="260.66" stroke="#808080" stroke-width="0.9"/>
<line x1="269.05" y1="268.99" x2="273.65" y2="268.99" stroke="#808080" stroke-width="0.9"/>
<circle cx="271.35" cy="264.83" r="1.7" fill="#707070"/>
<line x1="304.70" y1="185.71" x2="304.70" y2="194.04" stroke="#808080" stroke-width="0.9"/>
<line x1="302.40" y1="185.71" x2="307.00" y2="185.71" stroke="#808080" stroke-width="0.9"/>
<line x1="302.40" y1="194.04" x2="307.00" y2="194.04" stroke="#808080" stroke-width="0.9"/>
<circle cx="304.70" cy="189.87" r="1.7" fill="#707070"/>
<polyline points="238.00,278.71 258.01,276.62 271.35,271.77 304.70,250.25" fill="none" stroke="#000" stroke-width="1.6"/>
<path d="M236.00,280.11 L240.00,280.11 L238.00,276.71 Z" fill="#000"/>
<path d="M256.01,278.02 L260.01,278.02 L258.01,274.62 Z" fill="#000"/>
<line x1="271.35" y1="267.60" x2="271.35" y2="275.93" stroke="#000" stroke-width="1.0"/>
<line x1="269.05" y1="267.60" x2="273.65" y2="267.60" stroke="#000" stroke-width="1.0"/>
<line x1="269.05" y1="275.93" x2="273.65" y2="275.93" stroke="#000" stroke-width="1.0"/>
<path d="M269.35,273.17 L273.35,273.17 L271.35,269.77 Z" fill="#000"/>
<line x1="304.70" y1="246.78" x2="304.70" y2="253.72" stroke="#000" stroke-width="1.0"/>
<line x1="302.40" y1="246.78" x2="307.00" y2="246.78" stroke="#000" stroke-width="1.0"/>
<line x1="302.40" y1="253.72" x2="307.00" y2="253.72" stroke="#000" stroke-width="1.0"/>
<path d="M302.70,251.65 L306.70,251.65 L304.70,248.25 Z" fill="#000"/>
<circle cx="271.05" cy="250.50" r="1.35" fill="#000"/>
<circle cx="300.30" cy="177.90" r="1.35" fill="#000"/>
<circle cx="304.40" cy="177.90" r="1.35" fill="#000"/>
<circle cx="308.50" cy="177.90" r="1.35" fill="#000"/>
<text x="272.80" y="161.50" font-size="8.8" text-anchor="middle" font-weight="bold" fill="#000" textLength="60.8" lengthAdjust="spacingAndGlyphs">L363-shEXT1a</text>
<line x1="342.00" y1="175.30" x2="342.00" y2="280.00" stroke="#000" stroke-width="1.3"/>
<line x1="339.20" y1="279.40" x2="342.00" y2="279.40" stroke="#000" stroke-width="1.1"/>
<text x="338.80" y="281.60" font-size="6.4" text-anchor="end" font-weight="bold" fill="#000">0</text>
<line x1="339.20" y1="262.05" x2="342.00" y2="262.05" stroke="#000" stroke-width="1.1"/>
<text x="338.80" y="264.25" font-size="6.4" text-anchor="end" font-weight="bold" fill="#000">30</text>
<line x1="339.20" y1="244.70" x2="342.00" y2="244.70" stroke="#000" stroke-width="1.1"/>
<text x="338.80" y="246.90" font-size="6.4" text-anchor="end" font-weight="bold" fill="#000">60</text>
<line x1="339.20" y1="227.35" x2="342.00" y2="227.35" stroke="#000" stroke-width="1.1"/>
<text x="338.80" y="229.55" font-size="6.4" text-anchor="end" font-weight="bold" fill="#000">90</text>
<line x1="339.20" y1="210.00" x2="342.00" y2="210.00" stroke="#000" stroke-width="1.1"/>
<text x="338.80" y="212.20" font-size="6.4" text-anchor="end" font-weight="bold" fill="#000">120</text>
<line x1="339.20" y1="192.65" x2="342.00" y2="192.65" stroke="#000" stroke-width="1.1"/>
<text x="338.80" y="194.85" font-size="6.4" text-anchor="end" font-weight="bold" fill="#000">150</text>
<line x1="339.20" y1="175.30" x2="342.00" y2="175.30" stroke="#000" stroke-width="1.1"/>
<text x="338.80" y="177.50" font-size="6.4" text-anchor="end" font-weight="bold" fill="#000">180</text>
<line x1="339.20" y1="279.40" x2="411.90" y2="279.40" stroke="#000" stroke-width="1.3"/>
<line x1="342.00" y1="279.40" x2="342.00" y2="282.50" stroke="#000" stroke-width="1.35"/>
<text x="342.30" y="290.10" font-size="6.3" text-anchor="middle" font-weight="bold" fill="#000">0</text>
<line x1="348.67" y1="279.40" x2="348.67" y2="282.50" stroke="#000" stroke-width="1.35"/>
<text x="348.97" y="290.10" font-size="6.3" text-anchor="middle" font-weight="bold" fill="#000">1</text>
<line x1="355.34" y1="279.40" x2="355.34" y2="282.50" stroke="#000" stroke-width="1.35"/>
<text x="355.64" y="290.10" font-size="6.3" text-anchor="middle" font-weight="bold" fill="#000">2</text>
<line x1="362.01" y1="279.40" x2="362.01" y2="282.50" stroke="#000" stroke-width="1.35"/>
<text x="362.31" y="290.10" font-size="6.3" text-anchor="middle" font-weight="bold" fill="#000">3</text>
<line x1="368.68" y1="279.40" x2="368.68" y2="282.50" stroke="#000" stroke-width="1.35"/>
<text x="368.98" y="290.10" font-size="6.3" text-anchor="middle" font-weight="bold" fill="#000">4</text>
<line x1="375.35" y1="279.40" x2="375.35" y2="282.50" stroke="#000" stroke-width="1.35"/>
<text x="375.65" y="290.10" font-size="6.3" text-anchor="middle" font-weight="bold" fill="#000">5</text>
<line x1="382.02" y1="279.40" x2="382.02" y2="282.50" stroke="#000" stroke-width="1.35"/>
<text x="382.32" y="290.10" font-size="6.3" text-anchor="middle" font-weight="bold" fill="#000">6</text>
<line x1="388.69" y1="279.40" x2="388.69" y2="282.50" stroke="#000" stroke-width="1.35"/>
<text x="388.99" y="290.10" font-size="6.3" text-anchor="middle" font-weight="bold" fill="#000">7</text>
<line x1="395.36" y1="279.40" x2="395.36" y2="282.50" stroke="#000" stroke-width="1.35"/>
<text x="395.66" y="290.10" font-size="6.3" text-anchor="middle" font-weight="bold" fill="#000">8</text>
<line x1="402.03" y1="279.40" x2="402.03" y2="282.50" stroke="#000" stroke-width="1.35"/>
<text x="402.33" y="290.10" font-size="6.3" text-anchor="middle" font-weight="bold" fill="#000">9</text>
<line x1="408.70" y1="279.40" x2="408.70" y2="282.50" stroke="#000" stroke-width="1.35"/>
<text x="409.00" y="290.10" font-size="6.3" text-anchor="middle" font-weight="bold" fill="#000">10</text>
<text x="376.85" y="301.10" font-size="7.3" text-anchor="middle" font-weight="bold" fill="#000">Days</text>
<line x1="350.30" y1="181.70" x2="364.30" y2="181.70" stroke="#707070" stroke-width="1.1"/>
<circle cx="357.00" cy="181.70" r="1.5" fill="#707070"/>
<text x="368.80" y="184.00" font-size="6.8" text-anchor="middle" fill="#000">-</text>
<text x="371.30" y="184.10" font-size="6.8" text-anchor="start" fill="#000">dox</text>
<line x1="350.30" y1="192.40" x2="364.30" y2="192.40" stroke="#000" stroke-width="1.6"/>
<path d="M355.00,193.80 L359.00,193.80 L357.00,190.40 Z" fill="#000"/>
<text x="367.40" y="195.10" font-size="6.0" text-anchor="middle" fill="#000">+</text>
<text x="371.30" y="194.80" font-size="6.8" text-anchor="start" fill="#000">dox</text>
<polyline points="342.00,278.82 362.01,273.62 375.35,264.94 408.70,189.76" fill="none" stroke="#707070" stroke-width="1.3"/>
<circle cx="342.00" cy="278.82" r="1.7" fill="#707070"/>
<circle cx="362.01" cy="273.62" r="1.7" fill="#707070"/>
<circle cx="375.35" cy="264.94" r="1.7" fill="#707070"/>
<line x1="408.70" y1="181.08" x2="408.70" y2="198.43" stroke="#808080" stroke-width="0.9"/>
<line x1="406.40" y1="181.08" x2="411.00" y2="181.08" stroke="#808080" stroke-width="0.9"/>
<line x1="406.40" y1="198.43" x2="411.00" y2="198.43" stroke="#808080" stroke-width="0.9"/>
<circle cx="408.70" cy="189.76" r="1.7" fill="#707070"/>
<polyline points="342.00,278.82 362.01,274.19 375.35,270.15 408.70,231.40" fill="none" stroke="#000" stroke-width="1.6"/>
<path d="M340.00,280.22 L344.00,280.22 L342.00,276.82 Z" fill="#000"/>
<path d="M360.01,275.59 L364.01,275.59 L362.01,272.19 Z" fill="#000"/>
<path d="M373.35,271.55 L377.35,271.55 L375.35,268.15 Z" fill="#000"/>
<line x1="408.70" y1="227.93" x2="408.70" y2="234.87" stroke="#000" stroke-width="1.0"/>
<line x1="406.40" y1="227.93" x2="411.00" y2="227.93" stroke="#000" stroke-width="1.0"/>
<line x1="406.40" y1="234.87" x2="411.00" y2="234.87" stroke="#000" stroke-width="1.0"/>
<path d="M406.70,232.80 L410.70,232.80 L408.70,229.40 Z" fill="#000"/>
<circle cx="373.00" cy="250.50" r="1.35" fill="#000"/>
<circle cx="377.10" cy="250.50" r="1.35" fill="#000"/>
<circle cx="406.35" cy="173.40" r="1.35" fill="#000"/>
<circle cx="410.45" cy="173.40" r="1.35" fill="#000"/>
<text x="376.80" y="161.50" font-size="8.8" text-anchor="middle" font-weight="bold" fill="#000" textLength="61.2" lengthAdjust="spacingAndGlyphs">L363-shEXT1b</text>
<line x1="446.20" y1="175.30" x2="446.20" y2="280.00" stroke="#000" stroke-width="1.3"/>
<line x1="443.40" y1="279.40" x2="446.20" y2="279.40" stroke="#000" stroke-width="1.1"/>
<text x="443.00" y="281.60" font-size="6.4" text-anchor="end" font-weight="bold" fill="#000">0</text>
<line x1="443.40" y1="262.05" x2="446.20" y2="262.05" stroke="#000" stroke-width="1.1"/>
<text x="443.00" y="264.25" font-size="6.4" text-anchor="end" font-weight="bold" fill="#000">20</text>
<line x1="443.40" y1="244.70" x2="446.20" y2="244.70" stroke="#000" stroke-width="1.1"/>
<text x="443.00" y="246.90" font-size="6.4" text-anchor="end" font-weight="bold" fill="#000">40</text>
<line x1="443.40" y1="227.35" x2="446.20" y2="227.35" stroke="#000" stroke-width="1.1"/>
<text x="443.00" y="229.55" font-size="6.4" text-anchor="end" font-weight="bold" fill="#000">60</text>
<line x1="443.40" y1="210.00" x2="446.20" y2="210.00" stroke="#000" stroke-width="1.1"/>
<text x="443.00" y="212.20" font-size="6.4" text-anchor="end" font-weight="bold" fill="#000">80</text>
<line x1="443.40" y1="192.65" x2="446.20" y2="192.65" stroke="#000" stroke-width="1.1"/>
<text x="443.00" y="194.85" font-size="6.4" text-anchor="end" font-weight="bold" fill="#000">100</text>
<line x1="443.40" y1="175.30" x2="446.20" y2="175.30" stroke="#000" stroke-width="1.1"/>
<text x="443.00" y="177.50" font-size="6.4" text-anchor="end" font-weight="bold" fill="#000">120</text>
<line x1="443.40" y1="279.40" x2="516.10" y2="279.40" stroke="#000" stroke-width="1.3"/>
<line x1="446.20" y1="279.40" x2="446.20" y2="282.50" stroke="#000" stroke-width="1.35"/>
<text x="446.50" y="290.10" font-size="6.3" text-anchor="middle" font-weight="bold" fill="#000">0</text>
<line x1="452.87" y1="279.40" x2="452.87" y2="282.50" stroke="#000" stroke-width="1.35"/>
<text x="453.17" y="290.10" font-size="6.3" text-anchor="middle" font-weight="bold" fill="#000">1</text>
<line x1="459.54" y1="279.40" x2="459.54" y2="282.50" stroke="#000" stroke-width="1.35"/>
<text x="459.84" y="290.10" font-size="6.3" text-anchor="middle" font-weight="bold" fill="#000">2</text>
<line x1="466.21" y1="279.40" x2="466.21" y2="282.50" stroke="#000" stroke-width="1.35"/>
<text x="466.51" y="290.10" font-size="6.3" text-anchor="middle" font-weight="bold" fill="#000">3</text>
<line x1="472.88" y1="279.40" x2="472.88" y2="282.50" stroke="#000" stroke-width="1.35"/>
<text x="473.18" y="290.10" font-size="6.3" text-anchor="middle" font-weight="bold" fill="#000">4</text>
<line x1="479.55" y1="279.40" x2="479.55" y2="282.50" stroke="#000" stroke-width="1.35"/>
<text x="479.85" y="290.10" font-size="6.3" text-anchor="middle" font-weight="bold" fill="#000">5</text>
<line x1="486.22" y1="279.40" x2="486.22" y2="282.50" stroke="#000" stroke-width="1.35"/>
<text x="486.52" y="290.10" font-size="6.3" text-anchor="middle" font-weight="bold" fill="#000">6</text>
<line x1="492.89" y1="279.40" x2="492.89" y2="282.50" stroke="#000" stroke-width="1.35"/>
<text x="493.19" y="290.10" font-size="6.3" text-anchor="middle" font-weight="bold" fill="#000">7</text>
<line x1="499.56" y1="279.40" x2="499.56" y2="282.50" stroke="#000" stroke-width="1.35"/>
<text x="499.86" y="290.10" font-size="6.3" text-anchor="middle" font-weight="bold" fill="#000">8</text>
<line x1="506.23" y1="279.40" x2="506.23" y2="282.50" stroke="#000" stroke-width="1.35"/>
<text x="506.53" y="290.10" font-size="6.3" text-anchor="middle" font-weight="bold" fill="#000">9</text>
<line x1="512.90" y1="279.40" x2="512.90" y2="282.50" stroke="#000" stroke-width="1.35"/>
<text x="513.20" y="290.10" font-size="6.3" text-anchor="middle" font-weight="bold" fill="#000">10</text>
<text x="481.05" y="301.10" font-size="7.3" text-anchor="middle" font-weight="bold" fill="#000">Days</text>
<line x1="454.50" y1="181.70" x2="468.50" y2="181.70" stroke="#707070" stroke-width="1.1"/>
<circle cx="461.20" cy="181.70" r="1.5" fill="#707070"/>
<text x="473.00" y="184.00" font-size="6.8" text-anchor="middle" fill="#000">-</text>
<text x="475.50" y="184.10" font-size="6.8" text-anchor="start" fill="#000">dox</text>
<line x1="454.50" y1="192.40" x2="468.50" y2="192.40" stroke="#000" stroke-width="1.6"/>
<path d="M459.20,193.80 L463.20,193.80 L461.20,190.40 Z" fill="#000"/>
<text x="471.60" y="195.10" font-size="6.0" text-anchor="middle" fill="#000">+</text>
<text x="475.50" y="194.80" font-size="6.8" text-anchor="start" fill="#000">dox</text>
<polyline points="446.20,278.53 466.21,274.54 479.55,266.65 512.90,192.65" fill="none" stroke="#707070" stroke-width="1.3"/>
<circle cx="446.20" cy="278.53" r="1.7" fill="#707070"/>
<circle cx="466.21" cy="274.54" r="1.7" fill="#707070"/>
<circle cx="479.55" cy="266.65" r="1.7" fill="#707070"/>
<line x1="512.90" y1="181.37" x2="512.90" y2="203.93" stroke="#808080" stroke-width="0.9"/>
<line x1="510.60" y1="181.37" x2="515.20" y2="181.37" stroke="#808080" stroke-width="0.9"/>
<line x1="510.60" y1="203.93" x2="515.20" y2="203.93" stroke="#808080" stroke-width="0.9"/>
<circle cx="512.90" cy="192.65" r="1.7" fill="#707070"/>
<polyline points="446.20,278.53 466.21,275.06 479.55,271.16 512.90,234.29" fill="none" stroke="#000" stroke-width="1.6"/>
<path d="M444.20,279.93 L448.20,279.93 L446.20,276.53 Z" fill="#000"/>
<path d="M464.21,276.46 L468.21,276.46 L466.21,273.06 Z" fill="#000"/>
<path d="M477.55,272.56 L481.55,272.56 L479.55,269.16 Z" fill="#000"/>
<line x1="512.90" y1="229.95" x2="512.90" y2="238.63" stroke="#000" stroke-width="1.0"/>
<line x1="510.60" y1="229.95" x2="515.20" y2="229.95" stroke="#000" stroke-width="1.0"/>
<line x1="510.60" y1="238.63" x2="515.20" y2="238.63" stroke="#000" stroke-width="1.0"/>
<path d="M510.90,235.69 L514.90,235.69 L512.90,232.29 Z" fill="#000"/>
<circle cx="479.25" cy="255.70" r="1.35" fill="#000"/>
<circle cx="510.55" cy="173.80" r="1.35" fill="#000"/>
<circle cx="514.65" cy="173.80" r="1.35" fill="#000"/>
<text x="481.00" y="161.50" font-size="8.8" text-anchor="middle" font-weight="bold" fill="#000" textLength="61.2" lengthAdjust="spacingAndGlyphs">L363-shEXT1c</text>
<text x="3.40" y="160.50" font-size="17.2" text-anchor="start" font-weight="bold" fill="#000">C</text>
<line x1="29.10" y1="347.60" x2="29.10" y2="452.30" stroke="#000" stroke-width="1.3"/>
<line x1="26.30" y1="451.70" x2="29.10" y2="451.70" stroke="#000" stroke-width="1.1"/>
<text x="25.90" y="453.90" font-size="6.4" text-anchor="end" font-weight="bold" fill="#000">0</text>
<line x1="26.30" y1="425.68" x2="29.10" y2="425.68" stroke="#000" stroke-width="1.1"/>
<text x="25.90" y="427.88" font-size="6.4" text-anchor="end" font-weight="bold" fill="#000">30</text>
<line x1="26.30" y1="399.65" x2="29.10" y2="399.65" stroke="#000" stroke-width="1.1"/>
<text x="25.90" y="401.85" font-size="6.4" text-anchor="end" font-weight="bold" fill="#000">60</text>
<line x1="26.30" y1="373.62" x2="29.10" y2="373.62" stroke="#000" stroke-width="1.1"/>
<text x="25.90" y="375.83" font-size="6.4" text-anchor="end" font-weight="bold" fill="#000">90</text>
<line x1="26.30" y1="347.60" x2="29.10" y2="347.60" stroke="#000" stroke-width="1.1"/>
<text x="25.90" y="349.80" font-size="6.4" text-anchor="end" font-weight="bold" fill="#000">120</text>
<line x1="26.30" y1="451.70" x2="99.00" y2="451.70" stroke="#000" stroke-width="1.3"/>
<line x1="29.10" y1="451.70" x2="29.10" y2="454.80" stroke="#000" stroke-width="1.35"/>
<text x="29.40" y="462.40" font-size="6.3" text-anchor="middle" font-weight="bold" fill="#000">0</text>
<line x1="35.77" y1="451.70" x2="35.77" y2="454.80" stroke="#000" stroke-width="1.35"/>
<text x="36.07" y="462.40" font-size="6.3" text-anchor="middle" font-weight="bold" fill="#000">1</text>
<line x1="42.44" y1="451.70" x2="42.44" y2="454.80" stroke="#000" stroke-width="1.35"/>
<text x="42.74" y="462.40" font-size="6.3" text-anchor="middle" font-weight="bold" fill="#000">2</text>
<line x1="49.11" y1="451.70" x2="49.11" y2="454.80" stroke="#000" stroke-width="1.35"/>
<text x="49.41" y="462.40" font-size="6.3" text-anchor="middle" font-weight="bold" fill="#000">3</text>
<line x1="55.78" y1="451.70" x2="55.78" y2="454.80" stroke="#000" stroke-width="1.35"/>
<text x="56.08" y="462.40" font-size="6.3" text-anchor="middle" font-weight="bold" fill="#000">4</text>
<line x1="62.45" y1="451.70" x2="62.45" y2="454.80" stroke="#000" stroke-width="1.35"/>
<text x="62.75" y="462.40" font-size="6.3" text-anchor="middle" font-weight="bold" fill="#000">5</text>
<line x1="69.12" y1="451.70" x2="69.12" y2="454.80" stroke="#000" stroke-width="1.35"/>
<text x="69.42" y="462.40" font-size="6.3" text-anchor="middle" font-weight="bold" fill="#000">6</text>
<line x1="75.79" y1="451.70" x2="75.79" y2="454.80" stroke="#000" stroke-width="1.35"/>
<text x="76.09" y="462.40" font-size="6.3" text-anchor="middle" font-weight="bold" fill="#000">7</text>
<line x1="82.46" y1="451.70" x2="82.46" y2="454.80" stroke="#000" stroke-width="1.35"/>
<text x="82.76" y="462.40" font-size="6.3" text-anchor="middle" font-weight="bold" fill="#000">8</text>
<line x1="89.13" y1="451.70" x2="89.13" y2="454.80" stroke="#000" stroke-width="1.35"/>
<text x="89.43" y="462.40" font-size="6.3" text-anchor="middle" font-weight="bold" fill="#000">9</text>
<line x1="95.80" y1="451.70" x2="95.80" y2="454.80" stroke="#000" stroke-width="1.35"/>
<text x="96.10" y="462.40" font-size="6.3" text-anchor="middle" font-weight="bold" fill="#000">10</text>
<text x="63.95" y="473.40" font-size="7.3" text-anchor="middle" font-weight="bold" fill="#000">Days</text>
<line x1="37.40" y1="354.00" x2="51.40" y2="354.00" stroke="#707070" stroke-width="1.1"/>
<circle cx="44.10" cy="354.00" r="1.5" fill="#707070"/>
<text x="55.90" y="356.30" font-size="6.8" text-anchor="middle" fill="#000">-</text>
<text x="58.40" y="356.40" font-size="6.8" text-anchor="start" fill="#000">dox</text>
<line x1="37.40" y1="364.70" x2="51.40" y2="364.70" stroke="#000" stroke-width="1.6"/>
<path d="M42.10,366.10 L46.10,366.10 L44.10,362.70 Z" fill="#000"/>
<text x="54.50" y="367.40" font-size="6.0" text-anchor="middle" fill="#000">+</text>
<text x="58.40" y="367.10" font-size="6.8" text-anchor="start" fill="#000">dox</text>
<polyline points="29.10,450.83 49.11,445.63 62.45,434.35 95.80,370.16" fill="none" stroke="#707070" stroke-width="1.3"/>
<circle cx="29.10" cy="450.83" r="1.7" fill="#707070"/>
<circle cx="49.11" cy="445.63" r="1.7" fill="#707070"/>
<line x1="62.45" y1="431.75" x2="62.45" y2="436.95" stroke="#808080" stroke-width="0.9"/>
<line x1="60.15" y1="431.75" x2="64.75" y2="431.75" stroke="#808080" stroke-width="0.9"/>
<line x1="60.15" y1="436.95" x2="64.75" y2="436.95" stroke="#808080" stroke-width="0.9"/>
<circle cx="62.45" cy="434.35" r="1.7" fill="#707070"/>
<line x1="95.80" y1="367.03" x2="95.80" y2="373.28" stroke="#808080" stroke-width="0.9"/>
<line x1="93.50" y1="367.03" x2="98.10" y2="367.03" stroke="#808080" stroke-width="0.9"/>
<line x1="93.50" y1="373.28" x2="98.10" y2="373.28" stroke="#808080" stroke-width="0.9"/>
<circle cx="95.80" cy="370.16" r="1.7" fill="#707070"/>
<polyline points="29.10,450.83 49.11,445.63 62.45,436.95 95.80,364.08" fill="none" stroke="#000" stroke-width="1.6"/>
<path d="M27.10,452.23 L31.10,452.23 L29.10,448.83 Z" fill="#000"/>
<path d="M47.11,447.03 L51.11,447.03 L49.11,443.63 Z" fill="#000"/>
<line x1="62.45" y1="435.22" x2="62.45" y2="438.69" stroke="#000" stroke-width="1.0"/>
<line x1="60.15" y1="435.22" x2="64.75" y2="435.22" stroke="#000" stroke-width="1.0"/>
<line x1="60.15" y1="438.69" x2="64.75" y2="438.69" stroke="#000" stroke-width="1.0"/>
<path d="M60.45,438.35 L64.45,438.35 L62.45,434.95 Z" fill="#000"/>
<line x1="95.80" y1="358.01" x2="95.80" y2="370.16" stroke="#000" stroke-width="1.0"/>
<line x1="93.50" y1="358.01" x2="98.10" y2="358.01" stroke="#000" stroke-width="1.0"/>
<line x1="93.50" y1="370.16" x2="98.10" y2="370.16" stroke="#000" stroke-width="1.0"/>
<path d="M93.80,365.48 L97.80,365.48 L95.80,362.08 Z" fill="#000"/>
<text x="63.90" y="333.80" font-size="8.8" text-anchor="middle" font-weight="bold" fill="#000" textLength="43.8" lengthAdjust="spacingAndGlyphs">RPMI-TetR</text>
<text x="8.50" y="399.65" font-size="7.6" text-anchor="middle" font-weight="bold" transform="rotate(-90 8.50 399.65)" fill="#000" textLength="73.5" lengthAdjust="spacingAndGlyphs">Relative cell number</text>
<line x1="133.50" y1="347.60" x2="133.50" y2="452.30" stroke="#000" stroke-width="1.3"/>
<line x1="130.70" y1="451.70" x2="133.50" y2="451.70" stroke="#000" stroke-width="1.1"/>
<text x="130.30" y="453.90" font-size="6.4" text-anchor="end" font-weight="bold" fill="#000">0</text>
<line x1="130.70" y1="425.68" x2="133.50" y2="425.68" stroke="#000" stroke-width="1.1"/>
<text x="130.30" y="427.88" font-size="6.4" text-anchor="end" font-weight="bold" fill="#000">30</text>
<line x1="130.70" y1="399.65" x2="133.50" y2="399.65" stroke="#000" stroke-width="1.1"/>
<text x="130.30" y="401.85" font-size="6.4" text-anchor="end" font-weight="bold" fill="#000">60</text>
<line x1="130.70" y1="373.62" x2="133.50" y2="373.62" stroke="#000" stroke-width="1.1"/>
<text x="130.30" y="375.83" font-size="6.4" text-anchor="end" font-weight="bold" fill="#000">90</text>
<line x1="130.70" y1="347.60" x2="133.50" y2="347.60" stroke="#000" stroke-width="1.1"/>
<text x="130.30" y="349.80" font-size="6.4" text-anchor="end" font-weight="bold" fill="#000">120</text>
<line x1="130.70" y1="451.70" x2="203.40" y2="451.70" stroke="#000" stroke-width="1.3"/>
<line x1="133.50" y1="451.70" x2="133.50" y2="454.80" stroke="#000" stroke-width="1.35"/>
<text x="133.80" y="462.40" font-size="6.3" text-anchor="middle" font-weight="bold" fill="#000">0</text>
<line x1="140.17" y1="451.70" x2="140.17" y2="454.80" stroke="#000" stroke-width="1.35"/>
<text x="140.47" y="462.40" font-size="6.3" text-anchor="middle" font-weight="bold" fill="#000">1</text>
<line x1="146.84" y1="451.70" x2="146.84" y2="454.80" stroke="#000" stroke-width="1.35"/>
<text x="147.14" y="462.40" font-size="6.3" text-anchor="middle" font-weight="bold" fill="#000">2</text>
<line x1="153.51" y1="451.70" x2="153.51" y2="454.80" stroke="#000" stroke-width="1.35"/>
<text x="153.81" y="462.40" font-size="6.3" text-anchor="middle" font-weight="bold" fill="#000">3</text>
<line x1="160.18" y1="451.70" x2="160.18" y2="454.80" stroke="#000" stroke-width="1.35"/>
<text x="160.48" y="462.40" font-size="6.3" text-anchor="middle" font-weight="bold" fill="#000">4</text>
<line x1="166.85" y1="451.70" x2="166.85" y2="454.80" stroke="#000" stroke-width="1.35"/>
<text x="167.15" y="462.40" font-size="6.3" text-anchor="middle" font-weight="bold" fill="#000">5</text>
<line x1="173.52" y1="451.70" x2="173.52" y2="454.80" stroke="#000" stroke-width="1.35"/>
<text x="173.82" y="462.40" font-size="6.3" text-anchor="middle" font-weight="bold" fill="#000">6</text>
<line x1="180.19" y1="451.70" x2="180.19" y2="454.80" stroke="#000" stroke-width="1.35"/>
<text x="180.49" y="462.40" font-size="6.3" text-anchor="middle" font-weight="bold" fill="#000">7</text>
<line x1="186.86" y1="451.70" x2="186.86" y2="454.80" stroke="#000" stroke-width="1.35"/>
<text x="187.16" y="462.40" font-size="6.3" text-anchor="middle" font-weight="bold" fill="#000">8</text>
<line x1="193.53" y1="451.70" x2="193.53" y2="454.80" stroke="#000" stroke-width="1.35"/>
<text x="193.83" y="462.40" font-size="6.3" text-anchor="middle" font-weight="bold" fill="#000">9</text>
<line x1="200.20" y1="451.70" x2="200.20" y2="454.80" stroke="#000" stroke-width="1.35"/>
<text x="200.50" y="462.40" font-size="6.3" text-anchor="middle" font-weight="bold" fill="#000">10</text>
<text x="168.35" y="473.40" font-size="7.3" text-anchor="middle" font-weight="bold" fill="#000">Days</text>
<line x1="141.80" y1="354.00" x2="155.80" y2="354.00" stroke="#707070" stroke-width="1.1"/>
<circle cx="148.50" cy="354.00" r="1.5" fill="#707070"/>
<text x="160.30" y="356.30" font-size="6.8" text-anchor="middle" fill="#000">-</text>
<text x="162.80" y="356.40" font-size="6.8" text-anchor="start" fill="#000">dox</text>
<line x1="141.80" y1="364.70" x2="155.80" y2="364.70" stroke="#000" stroke-width="1.6"/>
<path d="M146.50,366.10 L150.50,366.10 L148.50,362.70 Z" fill="#000"/>
<text x="158.90" y="367.40" font-size="6.0" text-anchor="middle" fill="#000">+</text>
<text x="162.80" y="367.10" font-size="6.8" text-anchor="start" fill="#000">dox</text>
<polyline points="133.50,450.83 153.51,444.93 166.85,435.39 200.20,357.14" fill="none" stroke="#707070" stroke-width="1.3"/>
<circle cx="133.50" cy="450.83" r="1.7" fill="#707070"/>
<circle cx="153.51" cy="444.93" r="1.7" fill="#707070"/>
<circle cx="166.85" cy="435.39" r="1.7" fill="#707070"/>
<line x1="200.20" y1="351.94" x2="200.20" y2="362.35" stroke="#808080" stroke-width="0.9"/>
<line x1="197.90" y1="351.94" x2="202.50" y2="351.94" stroke="#808080" stroke-width="0.9"/>
<line x1="197.90" y1="362.35" x2="202.50" y2="362.35" stroke="#808080" stroke-width="0.9"/>
<circle cx="200.20" cy="357.14" r="1.7" fill="#707070"/>
<polyline points="133.50,450.83 153.51,449.70 166.85,447.36 200.20,397.05" fill="none" stroke="#000" stroke-width="1.6"/>
<path d="M131.50,452.23 L135.50,452.23 L133.50,448.83 Z" fill="#000"/>
<path d="M151.51,451.10 L155.51,451.10 L153.51,447.70 Z" fill="#000"/>
<path d="M164.85,448.76 L168.85,448.76 L166.85,445.36 Z" fill="#000"/>
<line x1="200.20" y1="388.37" x2="200.20" y2="405.72" stroke="#000" stroke-width="1.0"/>
<line x1="197.90" y1="388.37" x2="202.50" y2="388.37" stroke="#000" stroke-width="1.0"/>
<line x1="197.90" y1="405.72" x2="202.50" y2="405.72" stroke="#000" stroke-width="1.0"/>
<path d="M198.20,398.45 L202.20,398.45 L200.20,395.05 Z" fill="#000"/>
<circle cx="151.16" cy="435.00" r="1.35" fill="#000"/>
<circle cx="155.26" cy="435.00" r="1.35" fill="#000"/>
<circle cx="164.50" cy="424.90" r="1.35" fill="#000"/>
<circle cx="168.60" cy="424.90" r="1.35" fill="#000"/>
<circle cx="197.85" cy="343.80" r="1.35" fill="#000"/>
<circle cx="201.95" cy="343.80" r="1.35" fill="#000"/>
<text x="168.30" y="333.80" font-size="8.8" text-anchor="middle" font-weight="bold" fill="#000" textLength="62.8" lengthAdjust="spacingAndGlyphs">RPMI-shEXT1a</text>
<text x="1.30" y="331.80" font-size="17.2" text-anchor="start" font-weight="bold" fill="#000">D</text>
</svg>
</body></html>
